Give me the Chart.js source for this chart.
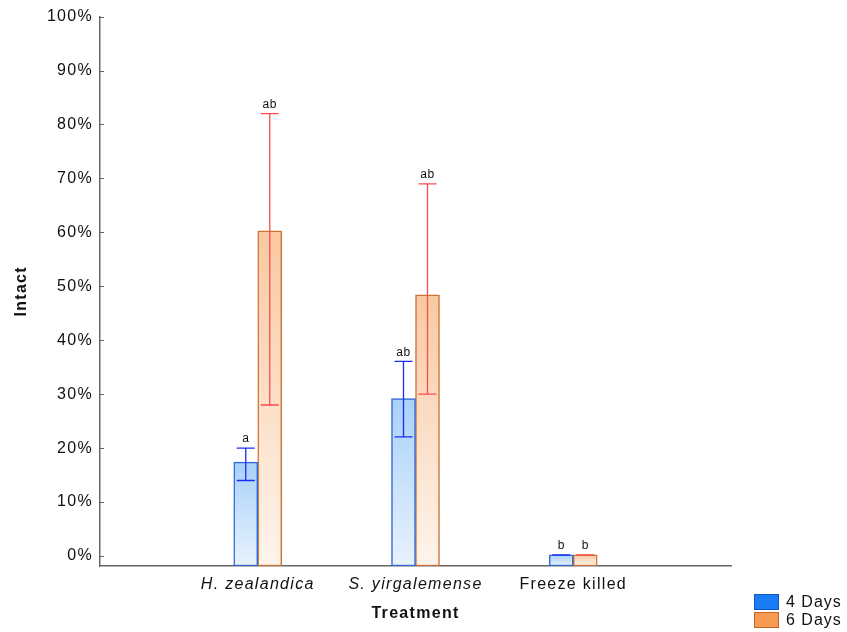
<!DOCTYPE html>
<html>
<head>
<meta charset="utf-8">
<script src="https://cdn.jsdelivr.net/npm/chart.js@4/dist/chart.umd.min.js"></script>
<style>
  body { margin: 0; background: #fff; }
  #wrap { position: relative; width: 847px; height: 632px; }
</style>
</head>
<body>
<div id="wrap"><canvas id="chart" width="847" height="632"></canvas></div>
<script>
// category slots: empty ends keep the spacing of the original plot
const categories = ['', 'H. zealandica', 'S. yirgalemense', 'Freeze killed', ''];
const days4 = [null, 17.4, 29.2, 0.2, null];
const days6 = [null, 60.3, 48.4, 0.2, null];
const days4Hi = [null, 20, 36.1, 0.2, null];
const days4Lo = [null, 14, 22.1, 0.2, null];
const days6Hi = [null, 82, 69, 0.2, null];
const days6Lo = [null, 28, 30, 0.2, null];
const letters4 = ['', 'a', 'ab', 'b', ''];
const letters6 = ['', 'ab', 'ab', 'b', ''];
const yTicks = [0, 10, 20, 30, 40, 50, 60, 70, 80, 90, 100];

const Y_MIN = -1.85;
const FONT = 'Liberation Sans, Arial, sans-serif';

// gradient runs from the top of each bar down to the axis
function grad(ctx, top, bottom) {
  const chart = ctx.chart;
  const area = chart.chartArea;
  if (!area || ctx.raw == null) return top;
  const yTop = chart.scales.y.getPixelForValue(ctx.raw);
  const g = chart.ctx.createLinearGradient(0, yTop, 0, area.bottom);
  g.addColorStop(0, top);
  g.addColorStop(1, bottom);
  return g;
}

const spacing = {
  id: 'spacing',
  beforeDraw(chart) { chart.ctx.letterSpacing = '1.3px'; }
};

const extras = {
  id: 'extras',
  afterDatasetsDraw(chart) {
    const c = chart.ctx;
    const y = chart.scales.y;
    const area = chart.chartArea;
    const sets = [
      { hi: days4Hi, lo: days4Lo, txt: letters4, col: '#1a2cf2', val: days4 },
      { hi: days6Hi, lo: days6Lo, txt: letters6, col: '#ff4a4a', val: days6 }
    ];
    c.save();
    c.letterSpacing = '0.5px';
    sets.forEach((s, i) => {
      const meta = chart.getDatasetMeta(i);
      meta.data.forEach((bar, j) => {
        if (s.val[j] == null) return;
        const x = bar.x;
        const yh = y.getPixelForValue(s.hi[j]);
        const yl = y.getPixelForValue(s.lo[j]);
        c.strokeStyle = s.col;
        c.lineWidth = 1.3;
        c.beginPath();
        c.moveTo(x, yh); c.lineTo(x, yl);
        c.moveTo(x - 9, yh); c.lineTo(x + 9, yh);
        c.moveTo(x - 9, yl); c.lineTo(x + 9, yl);
        c.stroke();
        c.fillStyle = '#111';
        c.font = '12px ' + FONT;
        c.textAlign = 'center';
        c.textBaseline = 'bottom';
        c.fillText(s.txt[j], x, yh - 3);
      });
    });
    // inward tick marks on the y axis
    c.strokeStyle = '#666';
    c.lineWidth = 1;
    yTicks.forEach(v => {
      const py = Math.round(y.getPixelForValue(v)) + 0.5;
      c.beginPath();
      c.moveTo(area.left, py); c.lineTo(area.left + 4, py);
      c.stroke();
    });
    // legend
    const items = [
      { label: '4 Days', fill: '#1a7cf4', border: '#1355c8', y: 594 },
      { label: '6 Days', fill: '#f79a52', border: '#c4621e', y: 612 }
    ];
    c.letterSpacing = '1px';
    items.forEach(it => {
      c.fillStyle = it.fill;
      c.fillRect(754, it.y, 25, 16);
      c.strokeStyle = it.border;
      c.strokeRect(754.5, it.y + 0.5, 24, 15);
      c.fillStyle = '#111';
      c.font = '16px ' + FONT;
      c.textAlign = 'left';
      c.textBaseline = 'middle';
      c.fillText(it.label, 786, it.y + 9);
    });
    c.restore();
  }
};

new Chart(document.getElementById('chart'), {
  type: 'bar',
  data: {
    labels: categories,
    datasets: [
      {
        label: '4 Days',
        data: days4,
        base: Y_MIN,
        backgroundColor: ctx => grad(ctx, '#a9d1fa', '#e8f2fd'),
        borderColor: '#3168d6',
        borderWidth: 1.5,
        borderSkipped: false,
        barThickness: 24
      },
      {
        label: '6 Days',
        data: days6,
        base: Y_MIN,
        backgroundColor: ctx => grad(ctx, '#f8c9a2', '#fff4ec'),
        borderColor: '#cc7434',
        borderWidth: 1.5,
        borderSkipped: false,
        barThickness: 24
      }
    ]
  },
  options: {
    responsive: false,
    animation: false,
    layout: { padding: { top: 15, right: 116, left: 0, bottom: 0 } },
    plugins: {
      legend: { display: false },
      tooltip: { enabled: false }
    },
    scales: {
      x: {
        offset: false,
        grid: { display: false, drawTicks: false },
        border: { color: '#666', width: 1.5 },
        ticks: {
          color: '#111',
          padding: 9,
          maxRotation: 0,
          autoSkip: false,
          font: ctx => ({ family: FONT, size: 16, style: ctx.index < 3 ? 'italic' : 'normal' })
        },
        title: {
          display: true,
          text: 'Treatment',
          color: '#111',
          font: { family: FONT, size: 16, weight: 'bold' },
          padding: { top: 6, bottom: 9 }
        },
        afterFit: s => { s.height = 66; }
      },
      y: {
        min: Y_MIN,
        max: 100,
        afterBuildTicks: s => { s.ticks = yTicks.map(v => ({ value: v })); },
        grid: { display: false, drawTicks: false },
        border: { color: '#666', width: 1.5 },
        ticks: {
          color: '#111',
          padding: 7,
          font: { family: FONT, size: 16 },
          callback: v => v + '%'
        },
        title: {
          display: true,
          text: 'Intact',
          color: '#111',
          font: { family: FONT, size: 16, weight: 'bold' },
          padding: { top: 12, bottom: 0 }
        },
        afterFit: s => { s.width = 100; }
      }
    }
  },
  plugins: [spacing, extras]
});
</script>
</body>
</html>
